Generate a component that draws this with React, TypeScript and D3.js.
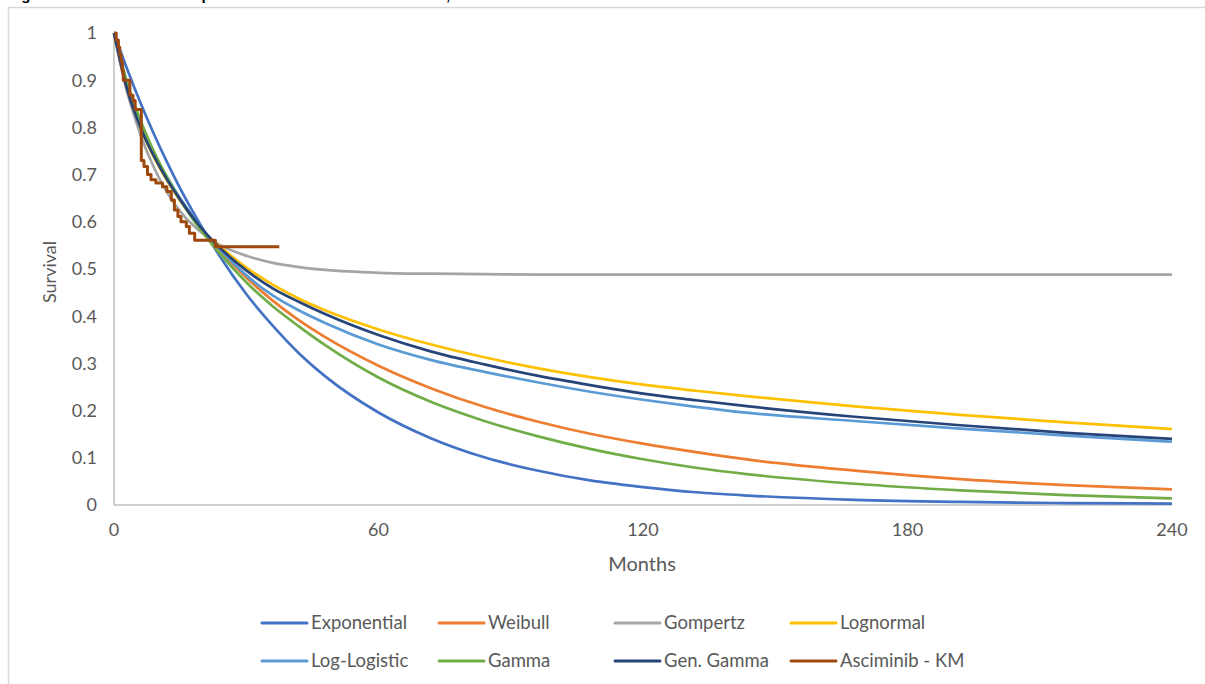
import React from "react";
import * as d3 from "d3";

const months = [0, 3, 6, 9, 12, 15, 18, 21, 24, 30, 36, 42, 48, 60, 72, 84, 96, 108, 120, 132, 144, 168, 192, 216, 240];

const exponential = [1, 0.923, 0.852, 0.787, 0.727, 0.671, 0.62, 0.572, 0.527, 0.447, 0.38, 0.321, 0.272, 0.196, 0.141, 0.101, 0.073, 0.052, 0.038, 0.027, 0.02, 0.011, 0.0065, 0.004, 0.003];
const weibull = [1, 0.876, 0.802, 0.742, 0.691, 0.646, 0.607, 0.571, 0.539, 0.482, 0.433, 0.391, 0.355, 0.295, 0.247, 0.208, 0.177, 0.151, 0.13, 0.112, 0.096, 0.073, 0.055, 0.042, 0.033];
const gompertz = [1, 0.875, 0.785, 0.716, 0.663, 0.622, 0.592, 0.569, 0.551, 0.528, 0.513, 0.504, 0.498, 0.492, 0.49, 0.489, 0.488, 0.488, 0.488, 0.488, 0.488, 0.488, 0.488, 0.488, 0.488];
const lognormal = [1, 0.885, 0.8, 0.738, 0.688, 0.645, 0.606, 0.572, 0.548, 0.503, 0.467, 0.437, 0.412, 0.372, 0.34, 0.313, 0.29, 0.271, 0.255, 0.242, 0.23, 0.209, 0.191, 0.175, 0.161];
const logLogistic = [1, 0.885, 0.805, 0.745, 0.695, 0.65, 0.61, 0.574, 0.542, 0.487, 0.444, 0.412, 0.385, 0.34, 0.307, 0.282, 0.26, 0.24, 0.223, 0.208, 0.195, 0.178, 0.162, 0.147, 0.134];
const gamma = [1, 0.895, 0.815, 0.75, 0.695, 0.647, 0.604, 0.567, 0.533, 0.472, 0.421, 0.378, 0.338, 0.27, 0.218, 0.178, 0.146, 0.119, 0.097, 0.079, 0.065, 0.045, 0.031, 0.021, 0.014];
const genGamma = [1, 0.88, 0.8, 0.74, 0.69, 0.647, 0.608, 0.574, 0.545, 0.497, 0.459, 0.43, 0.404, 0.36, 0.325, 0.298, 0.274, 0.254, 0.236, 0.222, 0.209, 0.187, 0.169, 0.153, 0.14];

const kmTimes = [0, 0.5, 1.0, 1.3, 1.6, 1.9, 2.1, 3.6, 4.3, 4.8, 6.2, 6.8, 7.6, 8.4, 9.5, 11.0, 12.0, 13.0, 13.7, 14.5, 15.2, 16.4, 17.1, 18.3, 23.0, 37.5];
const kmSurv = [1, 0.985, 0.97, 0.955, 0.94, 0.92, 0.9, 0.868, 0.857, 0.838, 0.73, 0.717, 0.7, 0.689, 0.682, 0.674, 0.664, 0.646, 0.625, 0.611, 0.6, 0.59, 0.576, 0.561, 0.547, 0.547];

const seriesNames = ["Exponential", "Weibull", "Gompertz", "Lognormal", "Log-Logistic", "Gamma", "Gen. Gamma", "Asciminib - KM"];
const seriesColors = ["#4472C4", "#ED7D31", "#A5A5A5", "#FFC000", "#5B9BD5", "#70AD47", "#264478", "#9E480E"];
const modelValues = [exponential, weibull, gompertz, lognormal, logLogistic, gamma, genGamma];

const yTicks = [0, 0.1, 0.2, 0.3, 0.4, 0.5, 0.6, 0.7, 0.8, 0.9, 1];
const xTicks = [0, 60, 120, 180, 240];

const FONT = "Lato, 'Open Sans', sans-serif";
const TXT = "#595959";

export default function App() {
  const x = d3.scaleLinear().domain([0, 240]).range([114, 1172]);
  const y = d3.scaleLinear().domain([0, 1]).range([505, 33]);

  const smooth = d3
    .line<[number, number]>()
    .x((d) => x(d[0]))
    .y((d) => y(d[1]))
    .curve(d3.curveMonotoneX);
  const step = d3
    .line<[number, number]>()
    .x((d) => x(d[0]))
    .y((d) => y(d[1]))
    .curve(d3.curveStepAfter);

  const legendCols = [262, 439, 615, 791];
  const legendRows = [623, 661];

  return (
    <svg
      width={1205}
      height={684}
      style={{ position: "absolute", left: 0, top: 0, background: "#fff" }}
    >
      <text x={8} y={0} fontFamily="Arial, 'Liberation Sans', sans-serif" fontWeight="bold" fontSize={15} fill="#000">
        Figure 14: Parametric extrapolations of MMR rate – Asciminib, ASC4FIRST
      </text>
      <rect x={8.5} y={7.5} width={1210} height={700} fill="none" stroke="#D9D9D9" strokeWidth={1.5} />

      {/* axes */}
      <line x1={x(0)} x2={x(0)} y1={y(1)} y2={y(0)} stroke="#BFBFBF" strokeWidth={1.5} />
      <line x1={x(0)} x2={x(240)} y1={y(0)} y2={y(0)} stroke="#BFBFBF" strokeWidth={1.5} />

      {yTicks.map((t) => (
        <text key={t} x={97} y={y(t)} dy="0.35em" textAnchor="end" fontFamily={FONT} fontSize={18} fill={TXT}>
          {d3.format("~g")(t)}
        </text>
      ))}
      {xTicks.map((t) => (
        <text key={t} x={x(t)} y={530} dy="0.35em" textAnchor="middle" fontFamily={FONT} fontSize={18} fill={TXT}>
          {t}
        </text>
      ))}
      <text x={642} y={564} dy="0.35em" textAnchor="middle" fontFamily={FONT} fontSize={20} fill={TXT}>
        Months
      </text>
      <text
        transform={`translate(50,272) rotate(-90)`}
        dy="0.35em"
        textAnchor="middle"
        fontFamily={FONT}
        fontSize={18}
        fill={TXT}
      >
        Survival
      </text>

      {modelValues.map((vals, i) => (
        <path
          key={seriesNames[i]}
          d={smooth(months.map((m, j) => [m, vals[j]] as [number, number])) || ""}
          fill="none"
          stroke={seriesColors[i]}
          strokeWidth={2.7}
          strokeLinejoin="round"
        />
      ))}
      <path
        d={step(kmTimes.map((t, j) => [t, kmSurv[j]] as [number, number])) || ""}
        fill="none"
        stroke={seriesColors[7]}
        strokeWidth={3}
        strokeLinejoin="round"
      />

      {seriesNames.map((name, i) => {
        const lx = legendCols[i % 4];
        const ly = legendRows[Math.floor(i / 4)];
        return (
          <g key={name}>
            <line x1={lx} x2={lx + 45} y1={ly} y2={ly} stroke={seriesColors[i]} strokeWidth={3} strokeLinecap="round" />
            <text x={lx + 49} y={ly} dy="0.35em" fontFamily={FONT} fontSize={18.5} fill={TXT}>
              {name}
            </text>
          </g>
        );
      })}
    </svg>
  );
}
